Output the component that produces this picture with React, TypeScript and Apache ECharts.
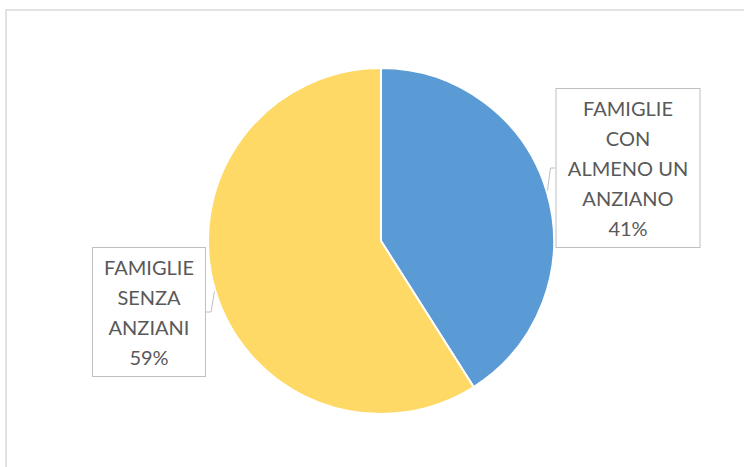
import React, { useEffect, useRef } from "react";
import * as echarts from "echarts";

const categories = ["FAMIGLIE CON ALMENO UN ANZIANO", "FAMIGLIE SENZA ANZIANI"];
const labelTexts = ["FAMIGLIE\nCON\nALMENO UN\nANZIANO", "FAMIGLIE\nSENZA\nANZIANI"];
const values = [41, 59];
const colors = ["#5B9BD5", "#FFD966"];

export default function App() {
  const ref = useRef<HTMLDivElement>(null);
  useEffect(() => {
    document.body.style.margin = "0";
    const chart = echarts.init(ref.current!, null, { renderer: "svg" });
    const labelPos = [
      { x: 628, y: 168, w: 135 },
      { x: 149, y: 312, w: 104 },
    ];
    chart.setOption({
      animation: false,
      backgroundColor: "#ffffff",
      graphic: [
        {
          type: "rect",
          shape: { x: 6, y: 10, width: 800, height: 500 },
          style: { fill: "none", stroke: "#d9d9d9", lineWidth: 1.5 },
          silent: true,
        },
      ],
      series: [
        {
          type: "pie",
          center: [381, 241],
          radius: 173,
          startAngle: 90,
          clockwise: true,
          data: categories.map((name, i) => ({
            name,
            value: values[i],
            itemStyle: { color: colors[i] },
            label: { width: labelPos[i].w },
          })),
          itemStyle: { borderColor: "#ffffff", borderWidth: 2 },
          label: {
            show: true,
            position: "outside",
            formatter: (p: any) => `${labelTexts[p.dataIndex]}\n${Math.round(p.percent)}%`,
            fontFamily: "Lato",
            fontSize: 20,
            lineHeight: 30,
            color: "#595959",
            align: "center",
            backgroundColor: "#ffffff",
            borderColor: "#bfbfbf",
            borderWidth: 1,
            padding: [4, 4],
          },
          labelLine: {
            show: true,
            length: 5,
            length2: 5,
            lineStyle: { color: "#bfbfbf", width: 1 },
          },
          labelLayout: (params: any) => ({
            x: labelPos[params.dataIndex].x,
            y: labelPos[params.dataIndex].y,
            align: "center",
            verticalAlign: "middle",
          }),
        },
      ],
    });
    return () => chart.dispose();
  }, []);
  return <div ref={ref} style={{ width: 744, height: 467 }} />;
}
